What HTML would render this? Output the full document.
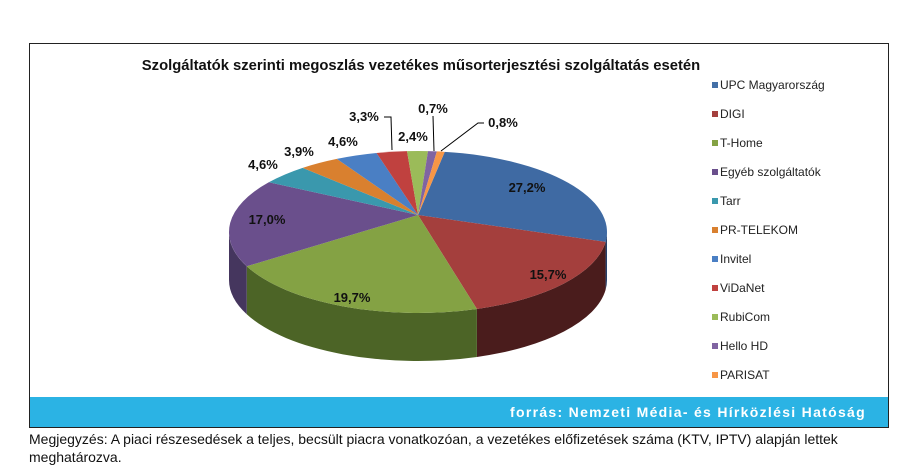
<!DOCTYPE html>
<html><head><meta charset="utf-8"><style>
body{margin:0;width:919px;height:476px;background:#fff;overflow:hidden;font-family:"Liberation Sans",sans-serif;position:relative}
#frame{position:absolute;left:29px;top:43px;width:860px;height:385px;border:1px solid #222;box-sizing:border-box}
#band{position:absolute;left:30px;top:397px;width:858px;height:30px;background:#2bb3e4;color:#fff;font-weight:bold;font-size:14px;letter-spacing:1.3px;text-align:right;line-height:30px;box-sizing:border-box;padding-right:22px}
.note{position:absolute;left:29px;font-size:14px;color:#111}
.leg{position:absolute;left:712px;font-size:12px;color:#222}
.leg i{display:inline-block;width:6px;height:6px;margin-right:2px;vertical-align:1px}
</style></head><body>
<div id="frame"></div>
<svg id="s" width="919" height="476" style="position:absolute;left:0;top:0"></svg>
<div id="band">forrás: Nemzeti Média- és Hírközlési Hatóság</div>
<div class="note" style="top:431px">Megjegyzés: A piaci részesedések a teljes, becsült piacra vonatkozóan, a vezetékes előfizetések száma (KTV, IPTV) alapján lettek</div>
<div class="note" style="top:449px">meghatározva.</div>
<div class="leg" style="top:78px"><i style="background:#4470a7"></i>UPC Magyarország</div>
<div class="leg" style="top:107px"><i style="background:#a43f3d"></i>DIGI</div>
<div class="leg" style="top:136px"><i style="background:#84a244"></i>T-Home</div>
<div class="leg" style="top:165px"><i style="background:#6a4f8c"></i>Egyéb szolgáltatók</div>
<div class="leg" style="top:194px"><i style="background:#3a98ad"></i>Tarr</div>
<div class="leg" style="top:223px"><i style="background:#d9802f"></i>PR-TELEKOM</div>
<div class="leg" style="top:252px"><i style="background:#4a7fc4"></i>Invitel</div>
<div class="leg" style="top:281px"><i style="background:#c0413f"></i>ViDaNet</div>
<div class="leg" style="top:310px"><i style="background:#9bbb59"></i>RubiCom</div>
<div class="leg" style="top:339px"><i style="background:#8064a2"></i>Hello HD</div>
<div class="leg" style="top:368px"><i style="background:#f79646"></i>PARISAT</div>
<script>
var s=document.getElementById('s'),NS='http://www.w3.org/2000/svg';
function el(t,a,txt){var e=document.createElementNS(NS,t);for(var k in a)e.setAttribute(k,a[k]);if(txt)e.textContent=txt;s.appendChild(e);return e;}
var cx=418,cy=232,rx=189,ry=81,d=48,ax=418,ay=215;
var cols=[['#3f6aa3','#26406a'],['#a43f3d','#4a1c1c'],['#84a244','#4c6426'],['#6a4f8c','#45365e'],['#3a98ad','#25606e'],['#d9802f','#8a501c'],['#4a7fc4','#2f5280'],['#c0413f','#7a2a28'],['#9bbb59','#627838'],['#8064a2','#513f68'],['#f79646','#a0602c']];
var pts=[[445,151],[607,242],[480,313],[243,267],[268,182],[303,168],[337,159],[376,152],[407,151],[428,151],[437,151]];
function ang(p){var t=Math.atan2((p[0]-cx)/rx,(cy-p[1])/ry)*180/Math.PI;return t;}
var A=pts.map(ang);
for(var i=1;i<A.length;i++){while(A[i]<A[i-1])A[i]+=360;}
A.push(A[0]+360);
function P(t,y){var r=t*Math.PI/180;return [cx+rx*Math.sin(r),(y||cy)-ry*Math.cos(r)];}
var sl=[];for(var i=0;i<11;i++)sl.push([A[i],A[i+1],cols[i][0],cols[i][1]]);
sl.forEach(function(q){var a1=Math.max(q[0],90),a2=Math.min(q[1],270);if(a2<=a1)return;
var p1=P(a1),p2=P(a2),p3=P(a2,cy+d),p4=P(a1,cy+d);
el('path',{d:'M'+p1+' A'+rx+' '+ry+' 0 0 1 '+p2+' L'+p3+' A'+rx+' '+ry+' 0 0 0 '+p4+' Z',fill:q[3]});});
sl.forEach(function(q){var p1=P(q[0]),p2=P(q[1]),lg=(q[1]-q[0])>180?1:0;
el('path',{d:'M'+ax+','+ay+' L'+p1+' A'+rx+' '+ry+' 0 '+lg+' 1 '+p2+' Z',fill:q[2]});});
var L=[['27,2%',527,192],['15,7%',548,279],['19,7%',352,302],['17,0%',267,224],['4,6%',263,169],['3,9%',299,156],['4,6%',343,146],['3,3%',364,121],['2,4%',413,141],['0,7%',433,113],['0,8%',503,127]];
L.forEach(function(l){el('text',{x:l[1],y:l[2],'text-anchor':'middle','font-size':'13','font-weight':'bold','font-family':'Liberation Sans,sans-serif',fill:'#111'},l[0]);});
el('polyline',{points:'384,117 391,117 392,150',fill:'none',stroke:'#000','stroke-width':1});
el('polyline',{points:'433,116 434,151',fill:'none',stroke:'#000','stroke-width':1});
el('polyline',{points:'484,123 478,123 441,151',fill:'none',stroke:'#000','stroke-width':1});
el('text',{x:421,y:70,'text-anchor':'middle','font-size':'14.8','font-weight':'bold','font-family':'Liberation Sans,sans-serif',fill:'#111'},'Szolgáltatók szerinti megoszlás vezetékes műsorterjesztési szolgáltatás esetén');
</script>
</body></html>
